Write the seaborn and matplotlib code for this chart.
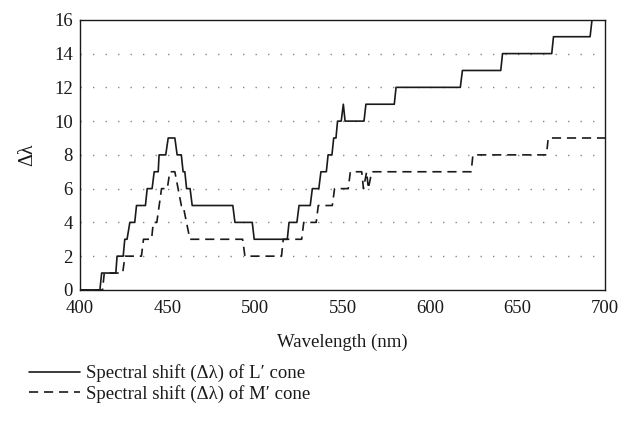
import numpy as np
import pandas as pd
import matplotlib
matplotlib.use("Agg")
import matplotlib.pyplot as plt
from matplotlib.ticker import MultipleLocator
from matplotlib.lines import Line2D
import seaborn as sns

# L' cone spectral shift: constant levels (start nm, end nm, value)
L_start = [400, 412.5, 421.3, 425.7, 428.6, 432.4, 438.5, 442.5, 445.3, 450.5, 455.6, 459.0, 461.0, 464.2,
           488.6, 499.6, 519.5, 525.2, 532.8, 537.7, 541.8, 545.0, 547.2, 550.5, 551.5, 563.4, 580.6,
           618.5, 641.4, 670.5, 692.5]
L_end = [411.5, 420.6, 424.8, 427.0, 431.4, 437.5, 441.3, 444.8, 449.1, 454.3, 458.0, 460.0, 463.0, 487.4,
         498.5, 518.5, 524.0, 531.6, 536.5, 540.8, 544.0, 546.3, 549.3, 550.5, 562.3, 579.6, 617.3,
         640.4, 669.5, 691.4, 700]
L_val = [0, 1, 2, 3, 4, 5, 6, 7, 8, 9, 8, 7, 6, 5,
         4, 3, 4, 5, 6, 7, 8, 9, 10, 11, 10, 11, 12,
         13, 14, 15, 16]

# M' cone spectral shift
M_start = [400, 414.0, 425.8, 436.4, 442.0, 446.7, 451.4, 458.0, 462.9, 494.3, 516.2, 527.9, 536.2,
           545.5, 554.5, 562.0, 563.8, 564.8, 566.7, 624.5, 667.5]
M_end = [413.0, 424.5, 435.2, 441.0, 444.0, 450.0, 454.3, 459.0, 493.0, 515.2, 526.7, 535.0, 544.2,
         553.3, 561.0, 562.0, 563.8, 564.8, 623.5, 666.5, 700]
M_val = [0, 1, 2, 3, 4, 6, 7, 5, 3, 2, 3, 4, 5,
         6, 7, 6, 7, 6, 7, 8, 9]

x_ticks = [400, 450, 500, 550, 600, 650, 700]
y_ticks = [0, 2, 4, 6, 8, 10, 12, 14, 16]
labels = ["Spectral shift (Δλ) of L′ cone", "Spectral shift (Δλ) of M′ cone"]


def to_points(starts, ends, vals):
    xs, ys = [], []
    for s, e, v in zip(starts, ends, vals):
        xs += [s, e]
        ys += [v, v]
    return pd.DataFrame({"wl": xs, "shift": ys})


dfL = to_points(L_start, L_end, L_val)
dfM = to_points(M_start, M_end, M_val)

sns.set_style("white")
plt.rcParams["font.family"] = ["Liberation Serif", "DejaVu Serif"]

fig = plt.figure(figsize=(6.33, 4.22), dpi=100)
ax = fig.add_axes([0.126, 0.313, 0.83, 0.64])

col = "#1a1a1a"
dash = (0, (5.5, 3.5))
sns.lineplot(data=dfL, x="wl", y="shift", ax=ax, estimator=None, sort=False,
             color=col, linewidth=1.2)
sns.lineplot(data=dfM, x="wl", y="shift", ax=ax, estimator=None, sort=False,
             color=col, linewidth=1.2, linestyle=dash)

ax.set_xlim(400, 700)
ax.set_ylim(0, 16)
ax.set_xticks(x_ticks)
ax.set_yticks(y_ticks)
ax.xaxis.set_minor_locator(MultipleLocator(12.5))
ax.yaxis.set_minor_locator(MultipleLocator(0.4))

for v in y_ticks[1:-1]:
    ax.axhline(v, color="#888888", linewidth=1.0, linestyle=(0, (1, 8)), zorder=0)

ax.tick_params(axis="both", which="major", direction="inout", length=6, width=0.9,
               labelsize=13.5, colors=col, pad=2)
ax.tick_params(axis="both", which="minor", direction="inout", length=3, width=0.8, colors=col)
ax.tick_params(axis="x", which="major", pad=4)

for sp in ax.spines.values():
    sp.set_color(col)
    sp.set_linewidth(1.0)

ax.set_xlabel("Wavelength (nm)", fontsize=13.5, color=col, labelpad=12)
ax.set_ylabel("Δλ", fontsize=14.5, color=col, labelpad=12)

handles = [Line2D([], [], color=col, linewidth=1.2),
           Line2D([], [], color=col, linewidth=1.2, linestyle=dash)]
fig.legend(handles, labels, loc="lower left", bbox_to_anchor=(0.019, 0.005),
           frameon=False, fontsize=13.5, handlelength=2.75, handletextpad=0.3,
           labelspacing=0.15, labelcolor=col)

fig.savefig("out.png", dpi=100)
